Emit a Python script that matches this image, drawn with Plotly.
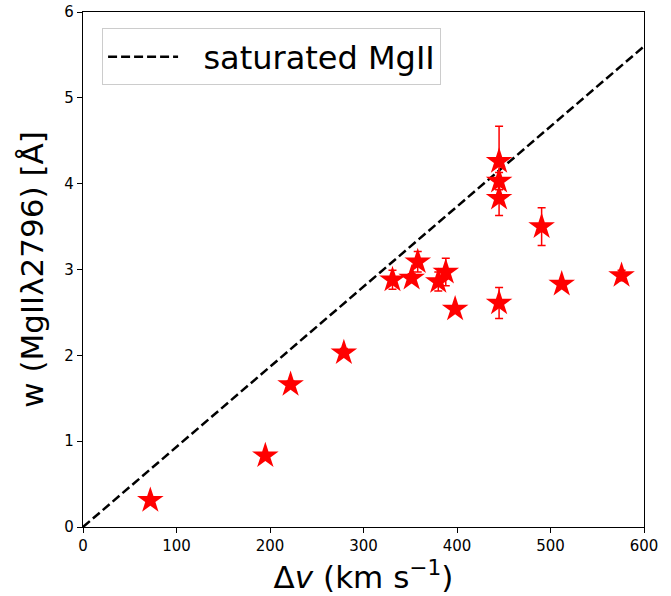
import plotly.graph_objects as go

dv = [72, 195, 222, 279, 331, 351.5, 358, 380, 388, 398, 445, 445, 445, 445, 490.5, 512, 576]
w = [0.31, 0.83, 1.66, 2.03, 2.88, 2.90, 3.09, 2.86, 2.97, 2.54, 4.26, 4.03, 3.83, 2.61, 3.50, 2.83, 2.93]
w_err = [0.03, 0.03, 0.04, 0.05, 0.11, 0.05, 0.12, 0.11, 0.16, 0.03, 0.41, 0.10, 0.20, 0.18, 0.22, 0.03, 0.06]

line_x = [0, 600]
line_y = [0, 5.6]

fig = go.Figure()
fig.add_trace(go.Scatter(
    x=line_x, y=line_y, mode="lines", name="\u00a0\u00a0saturated MgII",
    line=dict(color="black", width=2.5, dash="9px,4px"),
))
fig.add_trace(go.Scatter(
    x=dv, y=w, mode="markers", showlegend=False,
    marker=dict(symbol="star", size=20, color="red", line=dict(width=0)),
    error_y=dict(type="data", array=w_err, color="red", thickness=1.5, width=4),
))

fig.update_layout(
    width=671, height=596,
    margin=dict(l=83, r=27, t=12, b=69),
    plot_bgcolor="white", paper_bgcolor="white",
    font=dict(family="DejaVu Sans", color="black", size=15),
    legend=dict(x=0.034, y=0.968, xanchor="left", yanchor="top",
                bordercolor="#cccccc", borderwidth=1, bgcolor="white",
                font=dict(size=32), itemwidth=70),
    xaxis=dict(range=[0, 600], tickvals=[0, 100, 200, 300, 400, 500, 600], automargin=False,
               showline=True, linecolor="black", linewidth=1.2, mirror=True,
               ticks="outside", ticklen=5, tickcolor="black", showgrid=False, zeroline=False,
               title=dict(text="Δ<i>v</i> (km s<sup>−1</sup>)", font=dict(size=31), standoff=6)),
    yaxis=dict(range=[0, 6], tickvals=[0, 1, 2, 3, 4, 5, 6], automargin=False,
               showline=True, linecolor="black", linewidth=1.2, mirror=True,
               ticks="outside", ticklen=5, tickcolor="black", showgrid=False, zeroline=False,
               title=dict(text="w (MgIIλ2796) [Å]", font=dict(size=31), standoff=11)),
)

fig.write_html("out.html", config={"displayModeBar": False},
               post_script="document.body.style.margin='0px';")
